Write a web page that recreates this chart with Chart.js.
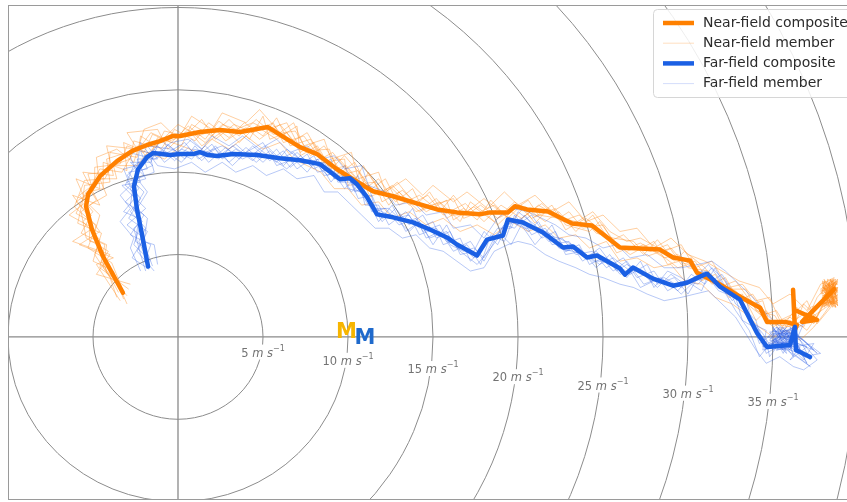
<!DOCTYPE html>
<html>
<head>
<meta charset="utf-8">
<title>Hodograph composite</title>
<script src="https://cdn.jsdelivr.net/npm/chart.js@4.4.0/dist/chart.umd.min.js"></script>
<style>
  html, body { margin: 0; padding: 0; background: #fff; overflow: hidden; }
  #wrap { width: 860px; height: 502px; }
</style>
</head>
<body>
<div id="wrap"><canvas id="hodo" width="860" height="502"></canvas></div>
<script>
// Wind components (u, v) in m/s.
const nearComposite = [
  [-3.24,2.68],[-4.41,4.88],[-5.06,6.52],[-5.41,7.93],[-5.29,8.66],[-4.59,9.76],[-3.59,10.67],[-2.71,11.28],
  [-1.82,11.65],[-1.06,11.89],[-0.29,12.20],[0.12,12.20],[1.29,12.44],[2.47,12.56],[3.65,12.44],[5.29,12.74],
  [6.41,12.01],[7.18,11.52],[8.18,11.10],[9.35,10.18],[10.29,9.57],[11.47,8.84],[12.65,8.54],[14.24,8.05],
  [15.24,7.74],[16.41,7.56],[17.76,7.44],[18.35,7.56],[19.41,7.56],[19.82,7.93],[20.53,7.74],[21.76,7.62],
  [23.18,6.89],[24.35,6.77],[26.00,5.43],[28.35,5.30],[29.12,4.82],[30.12,4.63],[30.53,3.90],[31.71,3.29],
  [33.06,2.44],[34.24,1.77],[34.65,0.91],[35.71,0.91],[36.41,0.73],[36.29,0.43],[36.18,2.87],[36.24,1.65],
  [37.59,1.04],[36.71,0.91],[38.6,2.9]
];

const farComposite = [
  [-1.76,4.27],[-2.06,5.91],[-2.41,7.74],[-2.59,9.15],[-2.35,10.18],[-1.82,10.91],[-1.47,11.16],[-0.47,11.04],
  [0.12,11.10],[0.88,11.10],[1.29,11.22],[1.76,11.04],[2.29,10.98],[3.24,11.10],[4.65,11.04],[6.00,10.85],
  [7.18,10.73],[8.35,10.49],[9.53,9.57],[10.12,9.63],[10.53,9.27],[11.12,8.48],[11.71,7.44],[12.65,7.26],
  [13.82,6.95],[14.82,6.52],[15.82,6.04],[16.41,5.61],[17.59,4.94],[18.18,5.91],[19.12,6.16],[19.41,7.13],
  [20.29,6.95],[21.47,6.34],[22.65,5.43],[23.24,5.49],[24.06,4.82],[24.65,4.94],[26.00,4.15],[26.29,3.78],
  [26.76,4.21],[27.94,3.54],[29.12,3.11],[29.94,3.29],[30.71,3.66],[31.12,3.84],[31.88,3.05],[33.06,2.26],
  [34.06,0.24],[34.65,-0.61],[36.00,-0.49],[36.29,0.61],[36.35,-0.79],[37.18,-1.22]
];

const nearMembers = [
  [[-3.6,2.4],[-4.0,3.6],[-4.9,5.0],[-4.6,5.9],[-5.6,7.0],[-5.0,7.6],[-5.8,8.6],[-4.9,9.3],[-4.9,10.3],[-3.4,10.5],[-3.0,11.6],[-2.0,11.2],[-1.5,12.3],[-0.4,11.8],[0.6,12.8],[1.6,12.0],[2.4,13.1],[3.6,12.2],[4.6,13.2],[5.6,12.3],[6.9,12.5],[7.6,11.3],[8.9,11.4],[9.5,9.8],[10.6,10.1],[11.3,8.5],[12.5,9.1],[13.6,8.0],[14.7,8.6],[15.6,7.4],[16.9,8.1],[18.0,7.0],[19.0,8.0],[20.2,7.2],[21.4,8.1],[22.5,7.0],[23.6,7.4],[24.6,6.3],[25.6,6.0],[26.8,5.8],[27.6,4.9],[29.0,5.4],[30.0,4.2],[31.2,4.0],[32.0,2.9],[33.4,2.9],[34.0,1.6],[35.1,1.3],[35.6,0.5],[36.8,1.4],[37.4,0.8],[38.0,2.2],[38.6,3.2],[37.9,2.4],[38.7,2.0],[38.2,3.4],[38.0,2.9],[38.8,3.0],[38.3,1.8],[37.9,3.3],[38.7,2.6]],
  [[-2.9,2.9],[-4.6,4.2],[-4.3,5.6],[-5.7,6.3],[-5.1,7.4],[-6.0,8.2],[-5.0,8.9],[-5.3,9.9],[-4.1,10.0],[-4.0,11.2],[-2.4,10.9],[-2.2,12.2],[-1.0,11.4],[-0.2,12.6],[1.0,11.9],[1.8,13.0],[3.0,12.1],[3.9,13.0],[5.0,12.2],[5.8,13.3],[6.6,11.6],[7.8,12.0],[8.5,10.6],[9.8,10.8],[10.0,9.2],[11.6,9.4],[12.0,8.2],[13.2,8.9],[14.6,7.6],[15.8,8.3],[16.2,7.1],[17.4,7.9],[18.6,7.0],[19.8,8.2],[21.0,7.3],[22.0,8.0],[22.8,6.5],[24.0,7.2],[25.2,6.2],[25.8,5.1],[27.2,5.7],[28.6,4.8],[29.4,5.0],[30.6,4.0],[31.4,3.6],[32.6,2.6],[33.6,2.2],[34.4,1.2],[35.0,0.6],[36.0,1.2],[37.0,0.4],[37.8,1.6],[38.2,3.0],[38.8,3.4],[38.0,1.9],[38.6,2.6],[37.9,2.5],[38.7,1.8],[38.3,3.3],[38.8,2.9],[38.0,2.2]],
  [[-3.3,3.0],[-3.9,4.5],[-5.3,5.4],[-4.8,6.8],[-6.0,7.5],[-5.4,8.8],[-4.4,9.0],[-4.4,10.6],[-3.0,10.1],[-3.2,11.8],[-1.6,11.1],[-1.2,12.1],[0.2,11.6],[0.8,12.9],[2.0,12.2],[3.0,13.2],[4.2,12.0],[5.0,13.4],[5.4,12.0],[6.4,12.4],[7.2,11.2],[8.0,11.8],[8.8,10.4],[9.4,10.9],[10.8,9.2],[11.2,10.0],[12.4,8.0],[13.0,8.8],[14.0,7.6],[15.4,8.2],[16.6,7.0],[17.2,8.2],[18.2,7.4],[18.8,6.8],[20.0,8.0],[20.8,7.2],[22.2,7.8],[22.8,6.8],[24.2,6.4],[24.8,7.0],[25.8,5.6],[26.6,5.0],[28.0,5.8],[28.8,4.4],[30.2,4.8],[30.8,3.4],[31.6,3.8],[32.4,2.4],[33.2,2.6],[34.0,1.0],[34.6,1.6],[35.4,0.4],[36.4,1.8],[37.0,1.0],[38.4,2.0],[37.9,3.4],[38.8,2.8],[38.1,2.2],[38.5,3.5],[38.8,1.9],[37.9,2.9],[38.6,3.1],[38.0,1.8],[38.7,2.5]],
  [[-3.0,2.5],[-4.2,3.9],[-4.6,5.7],[-5.2,5.8],[-5.2,7.1],[-6.1,7.9],[-5.5,9.5],[-4.3,9.6],[-3.9,10.4],[-2.8,10.8],[-2.6,11.9],[-1.3,11.5],[-0.8,12.5],[0.4,12.2],[1.4,13.2],[2.2,12.0],[3.3,12.9],[4.4,12.4],[5.6,13.0],[6.2,11.8],[7.4,12.2],[8.4,10.8],[9.1,11.2],[10.4,9.5],[10.9,10.4],[12.0,8.6],[12.9,9.4],[14.0,8.0],[14.8,8.8],[15.8,7.2],[16.8,7.8],[17.6,7.1],[18.4,8.3],[19.6,7.0],[20.4,7.9],[21.6,7.0],[22.4,7.6],[23.4,6.4],[24.4,7.4],[25.4,5.8],[26.2,6.2],[27.4,5.0],[28.2,5.9],[29.2,4.6],[29.8,5.2],[31.0,4.2],[31.8,3.0],[32.8,3.4],[33.8,2.0],[34.4,2.2],[34.8,0.8],[36.2,0.6],[36.8,2.0],[37.6,1.2],[38.2,2.4],[38.7,3.5],[37.8,2.9],[38.8,2.1],[38.4,2.0],[38.0,3.4],[38.8,2.8],[38.2,2.4],[38.6,1.8]],
  [[-3.5,2.7],[-4.5,4.6],[-4.1,5.2],[-5.4,6.0],[-5.7,7.6],[-4.8,8.3],[-5.2,9.0],[-4.6,10.2],[-3.3,10.0],[-2.4,11.6],[-1.9,11.0],[-0.9,12.0],[0.0,12.9],[1.2,12.2],[2.2,12.6],[2.8,11.9],[4.0,12.7],[4.8,12.0],[6.0,12.9],[6.8,11.9],[7.6,12.4],[8.4,11.0],[9.2,10.2],[9.9,10.4],[11.0,9.0],[11.8,9.6],[12.8,8.2],[13.8,9.0],[14.4,7.8],[15.2,8.4],[16.0,7.4],[17.0,7.4],[17.8,8.0],[18.8,7.2],[19.6,7.6],[20.6,8.3],[21.2,7.4],[22.4,7.2],[23.0,7.6],[23.8,6.6],[25.0,6.8],[25.8,5.4],[27.0,5.4],[27.8,5.2],[28.8,5.6],[29.6,4.4],[30.4,4.6],[31.4,3.2],[32.2,3.6],[33.0,2.2],[33.8,2.6],[34.6,1.4],[35.2,1.6],[35.8,0.6],[36.6,0.9],[37.2,1.8],[38.6,2.2],[38.0,3.0],[38.7,3.3],[38.2,1.9],[37.9,2.4],[38.8,2.7],[38.4,3.5],[38.0,2.0],[38.6,2.4]],
  [[-3.2,2.3],[-3.8,4.0],[-5.0,4.6],[-4.5,6.3],[-5.9,6.9],[-5.6,8.3],[-5.5,9.2],[-4.0,9.4],[-4.2,10.8],[-3.0,11.2],[-2.1,11.7],[-1.6,12.4],[-0.5,11.9],[0.8,12.4],[1.6,11.8],[2.6,12.9],[3.4,12.6],[4.4,13.0],[5.2,12.6],[6.4,13.0],[7.0,11.8],[7.8,11.0],[8.6,11.6],[9.6,10.0],[10.4,10.6],[11.0,9.4],[11.8,8.6],[12.6,9.2],[13.4,8.4],[14.2,7.6],[15.0,8.0],[16.2,8.4],[16.8,7.2],[17.8,7.6],[18.6,8.0],[19.4,7.2],[20.2,8.0],[21.0,6.9],[21.8,7.8],[22.6,7.2],[23.8,6.9],[24.6,6.5],[25.6,5.8],[26.4,5.2],[27.4,5.6],[28.4,5.0],[29.4,4.2],[30.0,4.4],[31.0,3.6],[32.0,3.2],[32.8,2.8],[33.6,1.9],[34.2,1.4],[35.2,0.8],[36.0,1.0],[36.8,0.6],[37.6,2.4],[38.4,3.4],[38.8,2.2],[37.9,2.0],[38.5,2.9],[38.8,3.3],[38.0,2.5],[38.7,1.8],[38.3,3.0],[37.9,2.2]],
  [[-2.8,3.2],[-4.8,3.8],[-4.0,5.0],[-6.2,5.8],[-5.0,6.6],[-6.4,7.4],[-5.4,8.2],[-6.0,9.6],[-4.6,9.0],[-4.8,10.9],[-3.6,11.4],[-2.6,10.6],[-2.0,12.6],[-1.0,13.0],[0.0,12.0],[0.8,13.4],[2.0,12.6],[2.6,13.6],[4.0,13.0],[4.8,13.8],[6.0,12.4],[6.8,13.0],[7.4,11.6],[8.6,12.0],[9.0,10.8],[10.2,11.2],[10.6,9.6],[11.8,10.0],[12.2,8.8],[13.4,9.6],[14.4,8.6],[15.0,9.2],[16.2,8.2],[17.0,8.8],[18.2,7.8],[19.2,8.8],[20.0,8.0],[21.0,8.6],[22.0,7.6],[23.0,8.2],[24.0,7.0],[25.0,7.4],[26.0,6.4],[27.0,6.6],[28.0,5.4],[29.0,6.0],[30.0,5.0],[31.0,4.6],[32.0,4.0],[33.0,3.4],[34.2,3.0],[35.0,2.0],[36.0,2.6],[37.0,1.6],[37.8,3.2],[38.6,3.6],[37.9,1.8],[38.8,2.4],[38.0,3.5],[38.6,1.9],[38.4,2.8],[37.9,3.0],[38.8,2.2],[38.1,1.9],[38.6,3.3],[38.0,2.4],[38.8,3.5],[38.3,2.0],[37.8,2.8],[38.7,2.9]],
  [[-3.0,2.0],[-3.6,3.4],[-4.4,4.2],[-4.2,5.6],[-5.0,6.0],[-4.6,7.4],[-5.2,8.0],[-4.2,8.6],[-4.6,9.6],[-3.6,9.6],[-3.8,10.4],[-2.4,10.4],[-1.8,11.2],[-0.8,10.8],[0.2,11.6],[1.2,11.2],[2.0,12.0],[3.0,11.4],[4.0,12.2],[5.0,11.4],[6.0,11.8],[6.8,10.8],[7.6,10.4],[8.4,10.0],[9.2,9.0],[10.0,9.0],[10.8,8.0],[11.8,8.2],[12.6,7.2],[13.6,7.6],[14.6,6.8],[15.6,7.2],[16.6,6.4],[17.6,6.8],[18.6,6.2],[19.6,7.0],[20.6,6.4],[21.6,6.8],[22.4,6.0],[23.4,6.2],[24.2,5.4],[25.2,5.8],[26.0,4.6],[27.0,4.8],[28.0,4.2],[29.0,4.4],[29.8,3.4],[30.8,3.2],[31.6,2.4],[32.6,2.0],[33.4,1.4],[34.2,0.6],[35.0,0.0],[35.8,0.4],[36.6,-0.2],[37.4,0.6],[38.0,1.4],[38.8,2.6],[38.2,3.2],[38.6,2.0],[37.9,2.7],[38.0,3.3],[38.8,1.9],[38.4,3.5],[37.9,2.1],[38.7,3.1],[38.2,2.6],[38.8,2.3],[38.0,3.0],[38.5,1.8],[38.3,3.2]],
  [[-3.4,2.2],[-4.8,4.4],[-3.8,4.8],[-5.8,5.6],[-4.6,6.4],[-6.2,8.6],[-4.6,8.0],[-5.6,10.0],[-3.8,9.8],[-4.2,11.6],[-2.4,11.4],[-3.0,12.4],[-1.2,12.6],[-0.6,11.4],[0.6,12.6],[1.4,11.6],[2.8,12.6],[3.6,11.8],[4.6,12.8],[5.8,12.0],[7.0,12.8],[7.2,11.0],[8.2,11.6],[9.0,10.2],[9.8,11.0],[10.8,9.8],[11.4,9.0],[12.2,9.6],[13.0,8.0],[14.2,8.6],[15.4,7.6],[16.2,8.6],[17.0,7.6],[18.0,8.4],[19.2,7.4],[20.0,7.0],[21.2,8.0],[22.2,7.4],[23.2,6.8],[24.4,7.6],[25.4,6.4],[26.4,5.8],[27.2,6.0],[28.6,5.2],[29.6,5.6],[30.4,4.2],[31.4,4.6],[32.4,3.0],[33.2,3.2],[34.0,2.2],[34.8,2.4],[35.4,1.0],[36.2,1.4],[37.0,2.2],[37.6,0.8],[38.4,1.8],[38.8,3.0],[37.8,2.6],[38.6,3.5],[38.2,2.2],[37.9,1.9],[38.7,3.4],[38.1,2.9],[38.8,2.5],[38.0,2.3],[38.6,2.0],[38.2,3.5],[38.8,3.2],[37.9,3.1],[38.4,2.4]]
];

const farMembers = [
  [[-1.4,4.0],[-2.4,5.2],[-1.8,6.4],[-2.9,7.2],[-2.2,8.4],[-3.0,9.4],[-2.0,9.8],[-2.8,10.6],[-1.6,10.6],[-1.2,11.6],[-0.2,10.7],[0.6,11.5],[1.4,10.7],[2.2,11.6],[3.0,10.6],[4.0,11.5],[5.0,10.6],[5.8,11.4],[6.6,10.3],[7.6,11.1],[8.2,10.0],[9.0,10.2],[9.8,9.0],[10.6,9.8],[11.0,8.0],[11.8,8.0],[12.4,6.8],[13.4,7.6],[14.2,6.6],[15.0,7.0],[15.6,5.6],[16.6,6.0],[17.2,4.6],[18.0,5.4],[18.8,6.6],[19.6,6.6],[20.0,7.6],[21.0,6.8],[21.8,5.8],[22.6,6.0],[23.4,5.0],[24.4,5.2],[25.2,4.2],[26.2,4.8],[27.0,3.6],[28.0,4.0],[28.8,2.8],[29.8,3.4],[30.6,3.2],[31.4,4.2],[32.2,3.4],[32.8,2.0],[33.6,1.4],[34.2,-0.4],[35.0,0.2],[35.6,-1.0],[36.2,0.4],[35.2,-0.8],[36.4,-0.4],[37.0,-1.6],[35.6,0.6],[34.8,-0.6],[36.2,-0.2],[35.0,0.4],[36.0,-0.8]],
  [[-2.0,4.5],[-1.6,5.6],[-2.8,6.2],[-2.0,7.4],[-3.1,8.2],[-2.3,9.0],[-2.9,10.0],[-1.8,10.2],[-2.2,11.3],[-1.0,11.0],[-0.6,11.7],[0.4,10.8],[1.0,11.6],[1.8,10.6],[2.8,11.5],[3.6,10.8],[4.4,11.6],[5.4,10.7],[6.2,11.3],[7.0,10.2],[7.8,10.8],[8.8,9.8],[9.4,10.2],[10.2,8.8],[10.8,9.4],[11.4,7.6],[12.2,7.8],[13.0,6.8],[14.0,7.2],[14.6,6.0],[15.4,6.4],[16.2,5.2],[17.0,5.6],[17.8,4.4],[18.4,6.2],[19.2,5.8],[19.8,7.4],[20.6,6.4],[21.2,7.0],[22.0,5.6],[23.0,5.8],[23.8,4.6],[24.6,5.2],[25.6,4.0],[26.4,4.6],[27.4,3.2],[28.4,3.6],[29.4,2.8],[30.2,3.8],[31.0,3.2],[31.6,4.2],[32.4,2.6],[33.4,2.4],[33.8,0.6],[34.6,-0.2],[34.8,-1.2],[35.8,0.2],[35.4,-0.6],[36.6,-1.0],[36.0,0.6],[37.4,-0.8],[35.0,0.2],[36.2,0.2],[34.8,-0.6],[35.8,-0.8]],
  [[-1.6,4.6],[-2.6,5.6],[-2.2,6.8],[-2.6,7.8],[-2.0,8.8],[-3.0,9.8],[-2.2,10.6],[-1.4,11.4],[-0.8,10.6],[0.2,11.4],[1.2,11.0],[2.0,11.7],[2.6,10.8],[3.4,11.4],[4.4,10.7],[5.2,11.6],[6.0,10.8],[6.8,11.2],[7.4,10.5],[8.6,10.9],[9.2,9.6],[10.0,9.8],[10.4,8.8],[11.2,9.2],[11.6,7.8],[12.4,7.8],[13.2,7.0],[13.8,7.8],[14.4,6.4],[15.4,6.8],[16.0,5.6],[16.8,5.2],[17.4,5.4],[18.0,4.8],[18.6,6.0],[19.2,6.8],[19.8,6.6],[20.4,7.4],[21.4,6.0],[22.2,6.4],[22.8,5.2],[23.6,5.6],[24.2,4.4],[25.0,4.8],[25.8,4.4],[26.6,3.8],[27.6,4.4],[28.2,3.2],[29.2,3.6],[30.0,2.6],[30.8,4.0],[31.4,3.4],[32.0,3.8],[32.6,2.8],[33.4,1.6],[34.0,1.0],[34.4,-0.6],[35.4,-0.2],[35.0,0.6],[36.0,-0.8],[36.4,0.2],[37.2,-1.4],[35.4,0.6],[34.8,-0.2],[36.2,-0.6],[35.2,-0.8]],
  [[-1.9,4.0],[-2.2,5.0],[-2.6,6.6],[-2.1,7.0],[-2.8,8.0],[-2.6,9.4],[-1.9,9.6],[-2.4,10.8],[-1.2,10.8],[-1.8,11.6],[-0.4,11.4],[0.8,10.8],[1.6,11.6],[2.4,10.8],[3.2,11.6],[4.2,10.9],[4.8,11.4],[5.8,10.6],[6.4,11.4],[7.4,10.6],[8.0,11.0],[8.6,9.8],[9.6,10.0],[10.0,9.0],[10.8,8.8],[11.2,8.4],[12.0,7.0],[12.8,7.8],[13.6,6.8],[14.4,7.4],[15.2,6.0],[16.0,6.4],[16.6,5.0],[17.4,5.2],[18.0,6.4],[18.8,5.6],[19.4,6.8],[20.2,7.2],[20.8,6.2],[21.6,6.6],[22.4,5.4],[23.2,5.2],[24.0,5.0],[24.8,4.4],[25.6,4.8],[26.6,4.0],[27.2,3.0],[28.0,3.4],[29.0,3.2],[29.6,2.6],[30.4,3.4],[31.2,3.6],[31.8,2.8],[32.8,2.4],[33.2,1.0],[34.2,0.4],[34.6,-1.0],[35.6,-0.4],[36.2,-1.2],[35.8,0.4],[36.8,-0.2],[37.6,-1.0],[36.0,0.5],[34.9,0.0],[35.9,-0.6]],
  [[-1.5,4.3],[-1.9,5.4],[-2.5,5.8],[-2.3,7.2],[-3.2,7.6],[-2.4,8.6],[-3.1,9.2],[-2.6,10.4],[-1.7,11.0],[-1.0,11.9],[0.0,11.2],[0.8,12.0],[1.6,11.2],[2.6,11.6],[3.8,10.8],[4.6,11.2],[5.6,10.8],[6.4,10.2],[7.2,11.0],[8.0,10.2],[9.0,10.8],[9.4,9.4],[10.2,9.4],[10.6,8.4],[11.4,8.6],[12.0,7.2],[12.6,7.4],[13.6,6.4],[14.2,7.0],[14.8,6.0],[15.8,6.4],[16.4,5.4],[17.2,5.8],[18.0,4.6],[18.6,5.8],[19.4,7.2],[20.0,6.8],[20.8,7.4],[21.6,6.2],[22.4,6.0],[23.2,5.6],[24.0,4.8],[24.8,5.4],[25.8,4.0],[26.4,4.4],[27.2,4.0],[28.2,3.0],[29.0,3.8],[29.8,3.2],[30.6,3.8],[31.2,4.4],[31.8,3.6],[32.6,2.2],[33.0,2.6],[33.8,0.8],[34.6,0.4],[34.4,-0.8],[35.2,-0.6],[35.6,0.4],[36.6,-0.6],[36.0,-1.4],[37.0,-0.6],[35.4,0.0],[36.2,0.6],[34.7,-0.4]],
  [[-1.8,4.6],[-2.3,5.8],[-1.9,6.6],[-2.8,7.6],[-2.4,8.2],[-2.8,9.0],[-2.4,10.0],[-1.5,10.4],[-2.0,11.0],[-0.8,11.3],[0.2,10.6],[0.9,11.4],[1.8,11.2],[2.4,11.0],[3.4,11.7],[4.6,10.6],[5.4,11.3],[6.2,10.4],[7.0,11.2],[7.8,10.4],[8.6,10.6],[9.2,9.6],[10.0,9.6],[10.6,9.0],[11.2,8.0],[12.0,7.6],[12.8,7.2],[13.6,7.4],[14.2,6.2],[15.2,6.6],[15.8,5.8],[16.6,5.6],[17.4,4.8],[18.2,5.8],[19.0,6.4],[19.6,7.0],[20.4,6.6],[21.2,6.6],[22.0,6.2],[22.8,5.2],[23.6,5.4],[24.4,4.6],[25.4,4.6],[26.0,3.8],[27.0,4.2],[27.8,3.4],[28.6,3.6],[29.6,3.0],[30.4,3.6],[31.0,4.0],[31.6,3.2],[32.4,3.0],[33.2,2.0],[33.6,1.2],[34.4,0.2],[35.0,-0.8],[35.8,-0.2],[36.4,-0.6],[35.4,0.4],[36.2,-1.0],[37.2,-1.8],[35.0,-0.2],[36.0,0.3],[35.6,-0.7]],
  [[-1.2,4.4],[-1.4,5.6],[-2.0,5.8],[-1.8,7.2],[-2.4,7.8],[-1.8,8.8],[-2.4,9.6],[-1.4,10.0],[-1.6,10.8],[-0.4,11.8],[0.6,12.0],[1.4,11.4],[2.0,12.2],[3.0,11.6],[3.8,12.2],[4.8,11.4],[5.8,12.0],[6.6,11.2],[7.6,11.6],[8.4,10.8],[9.2,11.0],[9.8,10.2],[10.8,10.4],[11.2,9.2],[12.2,8.8],[12.8,8.0],[13.8,8.2],[14.6,7.4],[15.6,7.6],[16.2,6.6],[17.2,6.8],[18.0,6.0],[18.8,7.2],[19.6,7.8],[20.6,7.6],[21.4,7.2],[22.2,6.8],[23.0,6.2],[24.0,6.0],[25.0,5.4],[25.8,5.6],[26.6,4.8],[27.6,5.0],[28.6,4.2],[29.6,4.2],[30.6,4.4],[31.4,4.6],[32.2,4.0],[33.0,3.2],[33.8,2.4],[34.6,1.4],[35.2,0.8],[36.0,0.2],[36.8,0.8],[36.2,-0.6],[37.4,-0.4],[36.8,-1.4],[35.0,0.5],[36.2,-0.4],[34.8,-0.7],[35.8,0.6],[35.2,-0.2],[36.3,0.2]],
  [[-2.2,4.0],[-2.8,5.4],[-2.6,6.0],[-3.4,7.0],[-2.8,7.8],[-3.4,8.6],[-2.8,9.2],[-3.2,10.2],[-2.4,10.4],[-2.2,11.8],[-1.2,10.4],[-0.2,10.2],[0.8,10.6],[1.6,10.0],[2.6,10.6],[3.4,10.0],[4.4,10.4],[5.2,9.8],[6.2,10.2],[7.0,9.6],[8.0,9.8],[8.6,8.8],[9.4,8.8],[10.2,8.0],[10.8,7.4],[11.6,6.6],[12.4,6.6],[13.2,6.0],[14.0,6.2],[14.8,5.4],[15.6,5.2],[16.4,4.6],[17.2,4.0],[18.0,4.2],[18.6,5.2],[19.4,5.6],[20.0,5.8],[20.8,5.6],[21.6,5.0],[22.4,4.6],[23.4,4.2],[24.2,3.8],[25.0,3.6],[26.0,3.2],[26.8,3.0],[27.6,2.6],[28.6,2.2],[29.6,2.4],[30.4,2.6],[31.2,2.8],[32.0,2.0],[32.8,1.2],[33.4,0.2],[34.0,-0.8],[34.6,-1.6],[35.4,-1.2],[36.2,-1.8],[36.8,-2.0],[37.6,-1.4],[36.6,-0.2],[35.2,0.6],[34.7,0.0],[36.1,-0.7],[35.5,0.3],[34.9,-0.5],[36.2,0.5]],
  [[-1.7,4.1],[-2.7,4.8],[-2.0,6.0],[-3.0,6.8],[-1.9,7.8],[-3.3,9.2],[-2.2,9.4],[-2.9,11.2],[-1.4,10.8],[-0.6,11.2],[0.4,11.8],[1.2,10.8],[2.2,11.4],[3.2,10.4],[4.0,11.2],[5.0,11.8],[5.8,10.4],[6.8,10.8],[7.6,10.0],[8.2,10.8],[9.0,9.4],[9.8,10.4],[10.4,9.0],[11.0,8.6],[11.8,7.0],[12.6,8.0],[13.4,6.4],[14.2,7.0],[15.0,5.6],[15.8,6.8],[16.6,5.2],[17.6,4.4],[18.4,5.4],[19.0,6.2],[19.6,5.6],[20.2,6.8],[21.0,5.6],[22.0,6.8],[22.8,5.0],[23.8,5.2],[24.6,4.2],[25.4,5.0],[26.4,3.6],[27.2,4.6],[28.0,3.0],[28.8,4.0],[29.6,3.6],[30.8,2.8],[31.2,3.8],[32.0,3.0],[32.8,1.6],[33.6,0.4],[34.2,-1.2],[35.0,-0.2],[35.8,-1.0],[35.2,0.6],[36.4,-0.4],[36.8,-1.2],[37.8,-1.0],[36.0,0.4],[34.8,0.3],[35.6,-0.8],[35.3,0.5],[36.3,-0.3],[34.9,-0.4]]
];

// Storm motion vectors (u, v) marked with an "M".
const nearStormMotion = [9.91, 0.29];
const farStormMotion = [10.99, -0.08];

// Speed rings (m/s) and the ones that carry a label.
const ringSpeeds = [5, 10, 15, 20, 25, 30, 35, 40, 45];
const ringLabelSpeeds = [5, 10, 15, 20, 25, 30, 35];

const seriesLabels = ['Near-field composite', 'Near-field member', 'Far-field composite', 'Far-field member'];

const NEAR = '#ff8000';
const FAR = '#1b60e4';
const NEAR_MEMBER = 'rgba(255,140,30,0.42)';
const FAR_MEMBER = 'rgba(45,95,230,0.34)';

const toXY = pts => pts.map(p => ({ x: p[0], y: p[1] }));

const datasets = [];
nearMembers.forEach(m => datasets.push({
  label: seriesLabels[1], data: toXY(m), showLine: true, borderColor: NEAR_MEMBER,
  borderWidth: 1, pointRadius: 0, order: 4
}));
farMembers.forEach(m => datasets.push({
  label: seriesLabels[3], data: toXY(m), showLine: true, borderColor: FAR_MEMBER,
  borderWidth: 1, pointRadius: 0, order: 3
}));
datasets.push({
  label: seriesLabels[0], data: toXY(nearComposite), showLine: true, borderColor: NEAR,
  borderWidth: 4.5, pointRadius: 0, borderJoinStyle: 'round', borderCapStyle: 'round', order: 2
});
datasets.push({
  label: seriesLabels[2], data: toXY(farComposite), showLine: true, borderColor: FAR,
  borderWidth: 4.5, pointRadius: 0, borderJoinStyle: 'round', borderCapStyle: 'round', order: 1
});

// Rings, axes through the origin and ring labels, drawn under the traces.
const hodographGrid = {
  id: 'hodographGrid',
  beforeDatasetsDraw(chart) {
    const { ctx, chartArea: a, scales: { x, y } } = chart;
    const cx = x.getPixelForValue(0), cy = y.getPixelForValue(0);
    ctx.save();
    ctx.beginPath();
    ctx.rect(a.left, a.top, a.right - a.left, a.bottom - a.top);
    ctx.clip();

    ctx.strokeStyle = '#8c8c8c';
    ctx.lineWidth = 1;
    ringSpeeds.forEach(r => {
      const rx = x.getPixelForValue(r) - cx;
      const ry = cy - y.getPixelForValue(r);
      ctx.beginPath();
      ctx.ellipse(cx, cy, rx, ry, 0, 0, Math.PI * 2);
      ctx.stroke();
    });

    ctx.strokeStyle = '#8a8a8a';
    ctx.lineWidth = 1.3;
    ctx.beginPath();
    ctx.moveTo(a.left, cy); ctx.lineTo(a.right, cy);
    ctx.moveTo(cx, a.top); ctx.lineTo(cx, a.bottom);
    ctx.stroke();

    // Ring labels, e.g. "10 m s⁻¹", with a white backing box
    const base = '11.5px "DejaVu Sans"';
    const ital = 'italic 11.5px "DejaVu Sans"';
    const sup = '8px "DejaVu Sans"';
    ringLabelSpeeds.forEach(r => {
      const px = x.getPixelForValue(r);
      const py = y.getPixelForValue(-0.1 * r - 0.45);
      const parts = [
        [r + ' ', base, 0], ['m', ital, 0], [' ', base, 0], ['s', ital, 0], ['\u22121', sup, -5]
      ];
      let w = 0;
      parts.forEach(p => { ctx.font = p[1]; p.push(ctx.measureText(p[0]).width); w += p[3]; });
      let sx = px - w / 2;
      ctx.fillStyle = '#ffffff';
      ctx.fillRect(sx - 2, py - 8, w + 4, 15);
      ctx.fillStyle = '#737373';
      ctx.textBaseline = 'middle';
      ctx.textAlign = 'left';
      parts.forEach(p => {
        ctx.font = p[1];
        ctx.fillText(p[0], sx, py + 1 + p[2]);
        sx += p[3];
      });
    });
    ctx.restore();
  },
  afterDatasetsDraw(chart) {
    const { ctx, chartArea: a, scales: { x, y } } = chart;
    ctx.save();
    // Storm-motion markers
    ctx.font = 'bold 21px "DejaVu Sans"';
    ctx.textAlign = 'center';
    ctx.textBaseline = 'middle';
    ctx.fillStyle = '#f7b500';
    ctx.fillText('M', x.getPixelForValue(nearStormMotion[0]), y.getPixelForValue(nearStormMotion[1]));
    ctx.fillStyle = '#1f6acc';
    ctx.fillText('M', x.getPixelForValue(farStormMotion[0]), y.getPixelForValue(farStormMotion[1]));

    // Frame
    ctx.strokeStyle = '#9a9a9a';
    ctx.lineWidth = 1;
    ctx.strokeRect(a.left + 0.5, a.top + 0.5, a.right - a.left - 1, a.bottom - a.top - 1);

    // Legend
    const lx = 653.5, ly = 9.5, lw = 230, lh = 88, rad = 4;
    ctx.beginPath();
    ctx.moveTo(lx + rad, ly);
    ctx.lineTo(lx + lw - rad, ly);
    ctx.arcTo(lx + lw, ly, lx + lw, ly + rad, rad);
    ctx.lineTo(lx + lw, ly + lh - rad);
    ctx.arcTo(lx + lw, ly + lh, lx + lw - rad, ly + lh, rad);
    ctx.lineTo(lx + rad, ly + lh);
    ctx.arcTo(lx, ly + lh, lx, ly + lh - rad, rad);
    ctx.lineTo(lx, ly + rad);
    ctx.arcTo(lx, ly, lx + rad, ly, rad);
    ctx.closePath();
    ctx.fillStyle = 'rgba(255,255,255,0.85)';
    ctx.fill();
    ctx.strokeStyle = '#d6d6d6';
    ctx.stroke();

    const rows = [
      [seriesLabels[0], NEAR, 4.5],
      [seriesLabels[1], 'rgba(255,150,50,0.3)', 1],
      [seriesLabels[2], FAR, 4.5],
      [seriesLabels[3], 'rgba(60,100,230,0.22)', 1]
    ];
    ctx.font = '14px "DejaVu Sans"';
    ctx.textAlign = 'left';
    ctx.textBaseline = 'middle';
    rows.forEach((row, i) => {
      const ry = 23 + i * 20.2;
      ctx.strokeStyle = row[1];
      ctx.lineWidth = row[2];
      ctx.beginPath();
      ctx.moveTo(663, ry); ctx.lineTo(694, ry);
      ctx.stroke();
      ctx.fillStyle = '#2b2b2b';
      ctx.fillText(row[0], 703, ry);
    });
    ctx.restore();
  }
};

new Chart(document.getElementById('hodo'), {
  type: 'scatter',
  data: { datasets },
  options: {
    responsive: false,
    animation: false,
    devicePixelRatio: 1,
    layout: { padding: { left: 8, top: 5, right: 2, bottom: 2 } },
    elements: { line: { tension: 0 }, point: { radius: 0 } },
    plugins: { legend: { display: false }, tooltip: { enabled: false } },
    scales: {
      x: { type: 'linear', min: -10, max: 40, display: false },
      y: { type: 'linear', min: -9.9, max: 20.15, display: false }
    }
  },
  plugins: [hodographGrid]
});
</script>
</body>
</html>
